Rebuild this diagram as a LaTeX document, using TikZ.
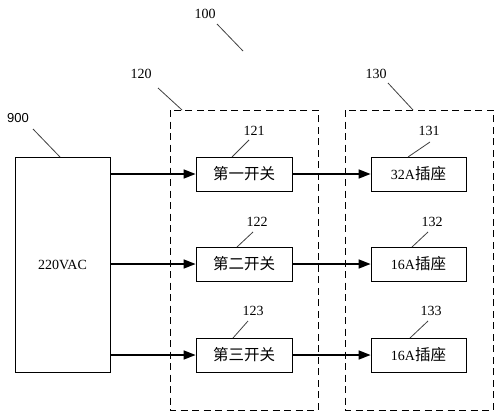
\documentclass[tikz,border=0pt]{standalone}
\usepackage{fontspec}
\setmainfont{Liberation Serif}
\newfontfamily\cjk{Noto Sans CJK SC}
\newfontfamily\labsans{Liberation Sans}
\newcommand\zh[1]{{\cjk\fontsize{15.5}{15.5}\selectfont #1}}
\usetikzlibrary{arrows.meta}
\begin{document}
\begin{tikzpicture}[x=1pt,y=-1pt,
  blk/.style={draw,line width=0.8pt,minimum width=96pt,minimum height=34pt,inner sep=0pt,font=\fontsize{14}{14}\selectfont},
  grp/.style={draw,line width=0.8pt,dash pattern=on 7pt off 4.5pt},
  lab/.style={font=\fontsize{14}{14}\selectfont,inner sep=0pt},
  lead/.style={line width=0.8pt,draw=black!75},
  conn/.style={line width=1.5pt,-{Triangle[length=12pt,width=9pt]}}]
\useasboundingbox (0,0) rectangle (500,412);
% groups
\draw[grp] (170,110) rectangle (318,410);
\draw[grp] (345,110) rectangle (493,410);
% source
\node[blk,minimum width=95pt,minimum height=215pt] (src) at (62.5,264.5) {220VAC};
% switches
\node[blk] (s1) at (244,174) {\zh{第一开关}};
\node[blk] (s2) at (244,264) {\zh{第二开关}};
\node[blk] (s3) at (244,355) {\zh{第三开关}};
% sockets
\node[blk,minimum width=95pt] (o1) at (418.5,174) {32A\zh{插座}};
\node[blk,minimum width=95pt] (o2) at (418.5,264) {16A\zh{插座}};
\node[blk,minimum width=95pt] (o3) at (418.5,355) {16A\zh{插座}};
% connectors
\draw[conn] (src.east |- s1) -- (s1.west);
\draw[conn] (src.east |- s2) -- (s2.west);
\draw[conn] (src.east |- s3) -- (s3.west);
\draw[conn] (s1.east) -- (o1.west);
\draw[conn] (s2.east) -- (o2.west);
\draw[conn] (s3.east) -- (o3.west);
% labels
\node[lab] (l100) at (205,14) {100};
\node[lab] (l120) at (141,74) {120};
\node[lab] (l130) at (376,74) {130};
\node[lab,font=\labsans\fontsize{13}{13}\selectfont] (l900) at (18,118) {900};
\node[lab] (l121) at (254,131) {121};
\node[lab] (l122) at (257,222) {122};
\node[lab] (l123) at (253,311) {123};
\node[lab] (l131) at (429,131) {131};
\node[lab] (l132) at (432,222) {132};
\node[lab] (l133) at (431,311) {133};
% leaders
\coordinate (e100) at (243,51);
\coordinate (e120) at (182,110);
\coordinate (e130) at (413,110);
\coordinate (e900) at (60,157);
\draw[lead] (217,24) -- (e100);
\draw[lead] (158,88) -- (e120);
\draw[lead] (388,83) -- (e130);
\draw[lead] (33,129) -- (e900);
\draw[lead] (249,140) -- (232,157);
\draw[lead] (253,232) -- (237,247);
\draw[lead] (248,321) -- (233,338);
\draw[lead] (430,142) -- (408,157);
\draw[lead] (428,232) -- (412,247);
\draw[lead] (428,321) -- (410,338);
\end{tikzpicture}
\end{document}
